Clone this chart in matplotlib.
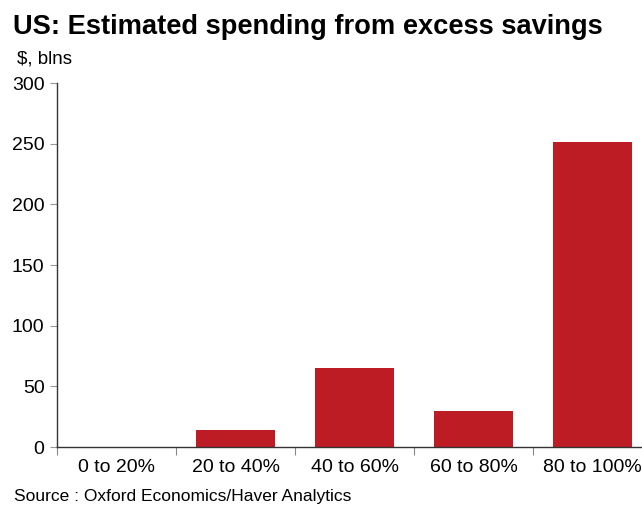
import matplotlib.pyplot as plt

plt.rcParams['font.family'] = ['Liberation Sans', 'DejaVu Sans']

categories = ['0 to 20%', '20 to 40%', '40 to 60%', '60 to 80%', '80 to 100%']
spending = [0, 14, 65, 30, 251]

BAR_COLOR = '#BE1C24'

fig = plt.figure(figsize=(6.42, 5.07), dpi=100)
ax = fig.add_axes([57 / 642, 1 - 447 / 507, 595 / 642, 364 / 507])

x = range(len(categories))
ax.bar(x, spending, width=0.66, color=BAR_COLOR)

ax.set_xlim(-0.5, len(categories) - 0.5)
ax.set_ylim(0, 300)
ax.set_yticks(range(0, 301, 50))
ax.tick_params(axis='y', labelsize=14, length=5, color='#999999', pad=4)

# category ticks sit on the boundaries between bars
ax.set_xticks([i - 0.5 for i in range(len(categories) + 1)])
ax.set_xticklabels([])
ax.set_xticks(list(x), minor=True)
ax.set_xticklabels(categories, minor=True)
ax.tick_params(axis='x', which='major', length=6, color='#888888')
ax.tick_params(axis='x', which='minor', length=0, labelsize=14, pad=9)

for side in ['top', 'right']:
    ax.spines[side].set_visible(False)
for side in ['left', 'bottom']:
    ax.spines[side].set_color('#333333')
    ax.spines[side].set_linewidth(1.0)

fig.text(13 / 642, 1 - 27 / 507, 'US: Estimated spending from excess savings',
         fontsize=19.6, fontweight='bold', va='center', ha='left')
fig.text(17 / 642, 1 - 59 / 507, '$, blns', fontsize=13.5, va='center', ha='left')
fig.text(14 / 642, 1 - 497 / 507, 'Source : Oxford Economics/Haver Analytics',
         fontsize=12.5, va='center', ha='left')

fig.savefig('out.png', dpi=100)
